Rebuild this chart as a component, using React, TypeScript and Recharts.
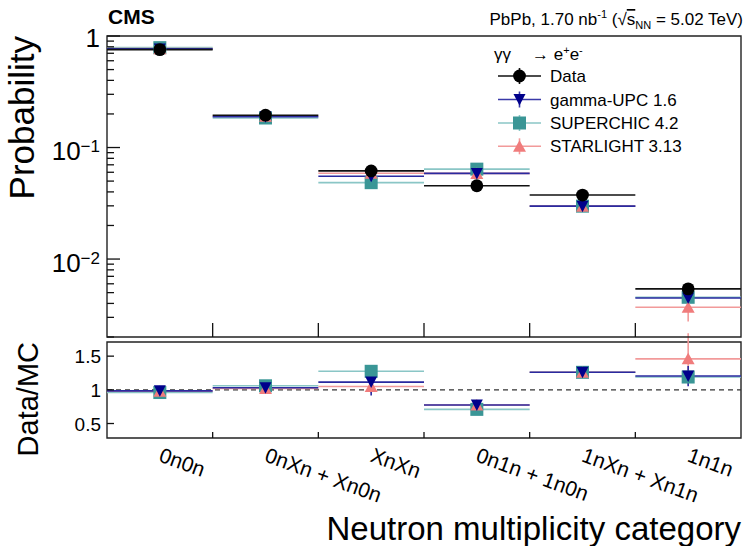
import React from 'react';
import {
  ComposedChart, Scatter, XAxis, YAxis, ErrorBar, ReferenceArea, ReferenceLine,
} from 'recharts';

const categories = ['0n0n', '0nXn + Xn0n', 'XnXn', '0n1n + 1n0n', '1nXn + Xn1n', '1n1n'];

// upper panel: probability per neutron category
const dataProb = [0.755, 0.195, 0.0617, 0.0454, 0.0375, 0.0054];
const dataProbErr = [0.012, 0.004, 0.0015, 0.0012, 0.001, 0.0003];
const gammaProb = [0.766, 0.189, 0.0553, 0.0586, 0.0298, 0.00448];
const gammaProbErr = [0.006, 0.002, 0.006, 0.002, 0.0008, 0.0002];
const superchicProb = [0.786, 0.184, 0.0484, 0.064, 0.0298, 0.00454];
const superchicProbErr = [0.006, 0.002, 0.001, 0.001, 0.0008, 0.0002];
const starlightProb = [0.77, 0.191, 0.0588, 0.0586, 0.0298, 0.0037];
const starlightProbErr = [0.006, 0.002, 0.001, 0.001, 0.0008, 0.00095];

// lower panel: data / MC
const gammaRatio = [0.985, 1.03, 1.115, 0.775, 1.26, 1.205];
const gammaRatioErr = [0.03, 0.04, 0.2, 0.04, 0.05, 0.15];
const superchicRatio = [0.96, 1.06, 1.275, 0.71, 1.26, 1.19];
const superchicRatioErr = [0.03, 0.03, 0.05, 0.03, 0.05, 0.05];
const starlightRatio = [0.98, 1.02, 1.05, 0.775, 1.26, 1.46];
const starlightRatioErr = [0.03, 0.04, 0.1, 0.03, 0.05, 0.38];

const probTicks = [
  0.002, 0.003, 0.004, 0.005, 0.006, 0.007, 0.008, 0.009,
  0.01, 0.02, 0.03, 0.04, 0.05, 0.06, 0.07, 0.08, 0.09,
  0.1, 0.2, 0.3, 0.4, 0.5, 0.6, 0.7, 0.8, 0.9, 1,
];
const ratioTicks = [0.5, 1, 1.5];
const binEdges = [1, 2, 3, 4, 5];
const labelTicks = [0.5, 1, 1.5, 2, 2.5, 3, 3.5, 4, 4.5, 5, 5.5];

const FONT = '"Liberation Sans", Arial, Helvetica, sans-serif';

type Pt = { x: number; y: number; ex: number; ey: number };
const toPoints = (vals: number[], errs: number[]): Pt[] =>
  vals.map((v, i) => ({ x: i + 0.5, y: v, ex: 0.5, ey: errs[i] }));

// marker shapes (ROOT style)
const dot = (fill: string) => (p: any) => <circle cx={p.cx} cy={p.cy} r={6.4} fill={fill} />;
const square = (fill: string) => (p: any) => <rect x={p.cx - 6.5} y={p.cy - 6.5} width={13} height={13} fill={fill} />;
const triDown = (fill: string) => (p: any) => (
  <polygon points={`${p.cx - 6},${p.cy - 5.5} ${p.cx + 6},${p.cy - 5.5} ${p.cx},${p.cy + 6}`} fill={fill} />
);
const triUp = (fill: string) => (p: any) => (
  <polygon points={`${p.cx - 6.5},${p.cy + 5.5} ${p.cx + 6.5},${p.cy + 5.5} ${p.cx},${p.cy - 6}`} fill={fill} />
);

const series = [
  { name: 'SUPERCHIC 4.2', line: '#8ac6c6', mark: '#3a9696', shape: square, prob: superchicProb, probErr: superchicProbErr, ratio: superchicRatio, ratioErr: superchicRatioErr },
  { name: 'STARLIGHT 3.13', line: '#f29a9a', mark: '#f07c7c', shape: triUp, prob: starlightProb, probErr: starlightProbErr, ratio: starlightRatio, ratioErr: starlightRatioErr },
  { name: 'gamma-UPC 1.6', line: '#2a2aa0', mark: '#00008b', shape: triDown, prob: gammaProb, probErr: gammaProbErr, ratio: gammaRatio, ratioErr: gammaRatioErr },
];

const legendRows = [
  { name: 'Data', line: '#111', mark: '#000', shape: dot },
  { name: 'gamma-UPC 1.6', line: '#3a3aa8', mark: '#00008b', shape: triDown },
  { name: 'SUPERCHIC 4.2', line: '#8ac6c6', mark: '#3a9696', shape: square },
  { name: 'STARLIGHT 3.13', line: '#f29a9a', mark: '#f07c7c', shape: triUp },
];

const ProbTick = (p: any) => {
  const v = p.payload.value;
  const e = Math.round(Math.log10(v));
  const major = Math.abs(Math.log10(v) - e) < 1e-6;
  return (
    <g>
      <line x1={p.x} x2={p.x + (major ? 13 : 7)} y1={p.y} y2={p.y} stroke="#111" strokeWidth={1.3} />
      {major && (e === 0 ? (
        <text x={p.x - 7} y={p.y + 11} textAnchor="end" fontSize={26} fontFamily={FONT} fill="#000">1</text>
      ) : (
        <text x={p.x - 7} y={p.y + 12.5} textAnchor="end" fontSize={26} fontFamily={FONT} fill="#000">
          10<tspan dy={-8} fontSize={17}>{'\u2212' + -e}</tspan>
        </text>
      ))}
    </g>
  );
};

const RatioTick = (p: any) => (
  <g>
    <line x1={p.x} x2={p.x + 7} y1={p.y} y2={p.y} stroke="#111" strokeWidth={1.3} />
    <text x={p.x - 6} y={p.y + 7} textAnchor="end" fontSize={19} fontFamily={FONT} fill="#000">{p.payload.value}</text>
  </g>
);

const UpperBinTick = (p: any) => (
  <line x1={p.x} x2={p.x} y1={p.y} y2={p.y - 14} stroke="#111" strokeWidth={1.3} />
);

const LowerBinTick = (p: any) => {
  const v = p.payload.value;
  if (Number.isInteger(v)) {
    return <line x1={p.x} x2={p.x} y1={p.y} y2={p.y - 6} stroke="#111" strokeWidth={1.3} />;
  }
  const bx = p.x - 2;
  const by = p.y + 23;
  return (
    <text x={bx} y={by} transform={`rotate(20 ${bx} ${by})`} fontSize={21} fontFamily={FONT} fill="#000">
      {categories[Math.floor(v)]}
    </text>
  );
};

const axisCommon = {
  type: 'number' as const,
  tickSize: 0,
  tickMargin: 0,
  axisLine: false,
  tickLine: false,
  interval: 0 as const,
  allowDataOverflow: true,
};

function UpperPanel() {
  return (
    <ComposedChart width={746} height={546} margin={{ top: 36, right: 5, bottom: 179, left: 47 }}>
      <XAxis {...axisCommon} dataKey="x" domain={[0, 6]} ticks={binEdges} height={30} tick={UpperBinTick} />
      <YAxis {...axisCommon} dataKey="y" scale="log" domain={[0.002, 1]} ticks={probTicks} width={60} tick={ProbTick} />
      <ReferenceArea x1={0} x2={6} y1={0.002} y2={1} fill="none" stroke="#222" strokeWidth={1.4} ifOverflow="visible" />
      {series.map(s => (
        <Scatter key={s.name} name={s.name} data={toPoints(s.prob, s.probErr)} dataKey="y" shape={s.shape(s.mark)} isAnimationActive={false}>
          <ErrorBar dataKey="ex" direction="x" width={0} stroke={s.line} strokeWidth={1.6} />
          <ErrorBar dataKey="ey" direction="y" width={0} stroke={s.line} strokeWidth={1.6} />
        </Scatter>
      ))}
      <Scatter name="Data" data={toPoints(dataProb, dataProbErr)} dataKey="y" shape={dot('#000')} isAnimationActive={false}>
        <ErrorBar dataKey="ex" direction="x" width={0} stroke="#111" strokeWidth={1.6} />
        <ErrorBar dataKey="ey" direction="y" width={0} stroke="#111" strokeWidth={1.6} />
      </Scatter>
    </ComposedChart>
  );
}

function LowerPanel() {
  return (
    <ComposedChart width={746} height={546} margin={{ top: 342, right: 5, bottom: 78, left: 47 }}>
      <XAxis {...axisCommon} dataKey="x" domain={[0, 6]} ticks={labelTicks} height={30} tick={LowerBinTick} />
      <YAxis {...axisCommon} dataKey="y" domain={[0.285, 1.71]} ticks={ratioTicks} width={60} tick={RatioTick} />
      <ReferenceArea x1={0} x2={6} y1={0.285} y2={1.71} fill="none" stroke="#222" strokeWidth={1.4} ifOverflow="visible" />
      <ReferenceLine y={1} stroke="#333" strokeWidth={1.3} strokeDasharray="5 4" />
      {series.map(s => (
        <Scatter key={s.name} name={s.name} data={toPoints(s.ratio, s.ratioErr)} dataKey="y" shape={s.shape(s.mark)} isAnimationActive={false}>
          <ErrorBar dataKey="ex" direction="x" width={0} stroke={s.line} strokeWidth={1.6} />
          <ErrorBar dataKey="ey" direction="y" width={0} stroke={s.line} strokeWidth={1.6} />
        </Scatter>
      ))}
    </ComposedChart>
  );
}

function Overlay() {
  const rowY = [76, 99.5, 123, 146.3];
  return (
    <svg width={746} height={546} style={{ position: 'absolute', left: 0, top: 0, pointerEvents: 'none' }} fontFamily={FONT}>
      <text x={108} y={24} fontSize={21} fontWeight="bold">CMS</text>
      <text x={743} y={25} fontSize={17} textAnchor="end">
        PbPb, 1.70 nb<tspan dy={-7} fontSize={11}>-1</tspan>
        <tspan dy={7}> (√</tspan>
        <tspan style={{ textDecoration: 'overline' }}>s</tspan>
        <tspan dy={4} fontSize={11}>NN</tspan>
        <tspan dy={-4}> = 5.02 TeV)</tspan>
      </text>

      <text x={494} y={60} fontSize={17}>γγ</text>
      <text x={532} y={60} fontSize={17}>
        → e<tspan dy={-6} fontSize={11}>+</tspan><tspan dy={6}>e</tspan><tspan dy={-6} fontSize={11}>-</tspan>
      </text>
      {legendRows.map((r, i) => {
        const Shape = r.shape(r.mark);
        return (
          <g key={r.name}>
            <line x1={498} x2={541} y1={rowY[i]} y2={rowY[i]} stroke={r.line} strokeWidth={1.6} />
            <line x1={519.5} x2={519.5} y1={rowY[i] - 8} y2={rowY[i] + 8} stroke={r.line} strokeWidth={1.6} />
            {Shape({ cx: 519.5, cy: rowY[i] })}
            <text x={550} y={rowY[i] + 6} fontSize={17}>{r.name}</text>
          </g>
        );
      })}

      <text transform="translate(34,36) rotate(-90)" textAnchor="end" fontSize={35}>Probability</text>
      <text transform="translate(38,342) rotate(-90)" textAnchor="end" fontSize={29}>Data/MC</text>
      <text x={741} y={540} textAnchor="end" fontSize={33}>Neutron multiplicity category</text>
    </svg>
  );
}

export default function App() {
  return (
    <div style={{ position: 'absolute', left: 0, top: 0, width: 746, height: 546, background: '#fff', overflow: 'hidden' }}>
      <div style={{ position: 'absolute', left: 0, top: 0 }}><LowerPanel /></div>
      <div style={{ position: 'absolute', left: 0, top: 0 }}><UpperPanel /></div>
      <Overlay />
    </div>
  );
}
